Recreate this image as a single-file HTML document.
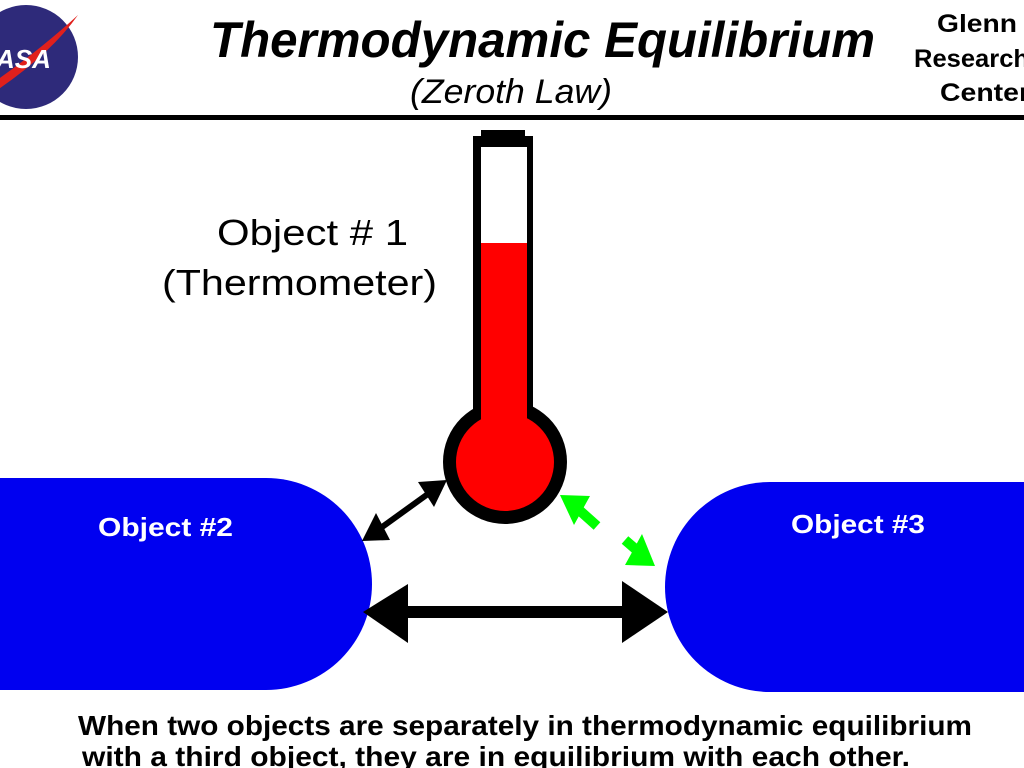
<!DOCTYPE html>
<html><head><meta charset="utf-8"><style>
html,body{margin:0;padding:0;background:#fff;width:1024px;height:768px;overflow:hidden}
svg{display:block}
</style></head><body>
<svg width="1024" height="768" viewBox="0 0 1024 768" xmlns="http://www.w3.org/2000/svg" font-family="Liberation Sans, sans-serif">
<!-- NASA logo -->
<circle cx="26" cy="57" r="52" fill="#2e2a7a"/>
<path d="M-10 85 Q40 50 78 15 Q50 55 -10 95 Z" fill="#e0201c"/>
<text x="-4" y="68" font-size="26" font-weight="bold" fill="#fff" font-style="italic">ASA</text>
<!-- Title -->
<text x="210" y="57" font-size="50" font-weight="bold" font-style="italic" textLength="665" lengthAdjust="spacingAndGlyphs">Thermodynamic  Equilibrium</text>
<text x="410" y="103" font-size="34" font-style="italic" textLength="202" lengthAdjust="spacingAndGlyphs">(Zeroth  Law)</text>
<text x="937" y="32" font-size="25" font-weight="bold" textLength="80" lengthAdjust="spacingAndGlyphs">Glenn</text>
<text x="914" y="67" font-size="25" font-weight="bold" textLength="115" lengthAdjust="spacingAndGlyphs">Research</text>
<text x="940" y="101" font-size="25" font-weight="bold" textLength="90" lengthAdjust="spacingAndGlyphs">Center</text>
<rect x="0" y="115" width="1024" height="5" fill="#000"/>
<!-- Objects -->
<path d="M-50 478 H266 A106 106 0 0 1 266 690 H-50 Z" fill="#0000f0"/>
<path d="M1080 482 H770 A105 105 0 0 0 770 692 H1080 Z" fill="#0000f0"/>
<text x="98" y="536" font-size="26" font-weight="bold" fill="#fff" textLength="135" lengthAdjust="spacingAndGlyphs">Object  #2</text>
<text x="791" y="533" font-size="26" font-weight="bold" fill="#fff" textLength="134" lengthAdjust="spacingAndGlyphs">Object  #3</text>
<!-- Thermometer -->
<rect x="473" y="136" width="60" height="300" fill="#000"/>
<rect x="481" y="130" width="44" height="8" fill="#000"/>
<circle cx="505" cy="462" r="62" fill="#000"/>
<rect x="481" y="147" width="46" height="96" fill="#fff"/>
<rect x="481" y="243" width="46" height="200" fill="#f00"/>
<circle cx="505" cy="462" r="49" fill="#f00"/>
<!-- labels -->
<text x="217" y="245" font-size="36" textLength="191" lengthAdjust="spacingAndGlyphs">Object  # 1</text>
<text x="162" y="295" font-size="36" textLength="275" lengthAdjust="spacingAndGlyphs">(Thermometer)</text>
<!-- main arrow -->
<rect x="400" y="606" width="230" height="12" fill="#000"/>
<polygon points="363,612 408,584 408,643" fill="#000"/>
<polygon points="668,612 622,581 622,643" fill="#000"/>
<!-- small black arrow -->
<line x1="378" y1="530" x2="432" y2="491" stroke="#000" stroke-width="6"/>
<polygon points="362,541 376,513 390,540" fill="#000"/>
<polygon points="447,480 418,482 434,507" fill="#000"/>
<!-- green arrows -->
<line x1="578" y1="509" x2="597" y2="526" stroke="#0f0" stroke-width="10"/>
<polygon points="560,495 590,496 574,525" fill="#0f0"/>
<line x1="625" y1="540" x2="640" y2="553" stroke="#0f0" stroke-width="10"/>
<polygon points="655,566 625,565 642,534" fill="#0f0"/>
<!-- bottom text -->
<text x="78" y="735" font-size="28" font-weight="bold" textLength="894" lengthAdjust="spacingAndGlyphs">When  two  objects  are  separately  in  thermodynamic  equilibrium</text>
<text x="82" y="766" font-size="28" font-weight="bold" textLength="828" lengthAdjust="spacingAndGlyphs">with  a  third  object, they  are  in equilibrium  with  each  other.</text>
</svg>
</body></html>
